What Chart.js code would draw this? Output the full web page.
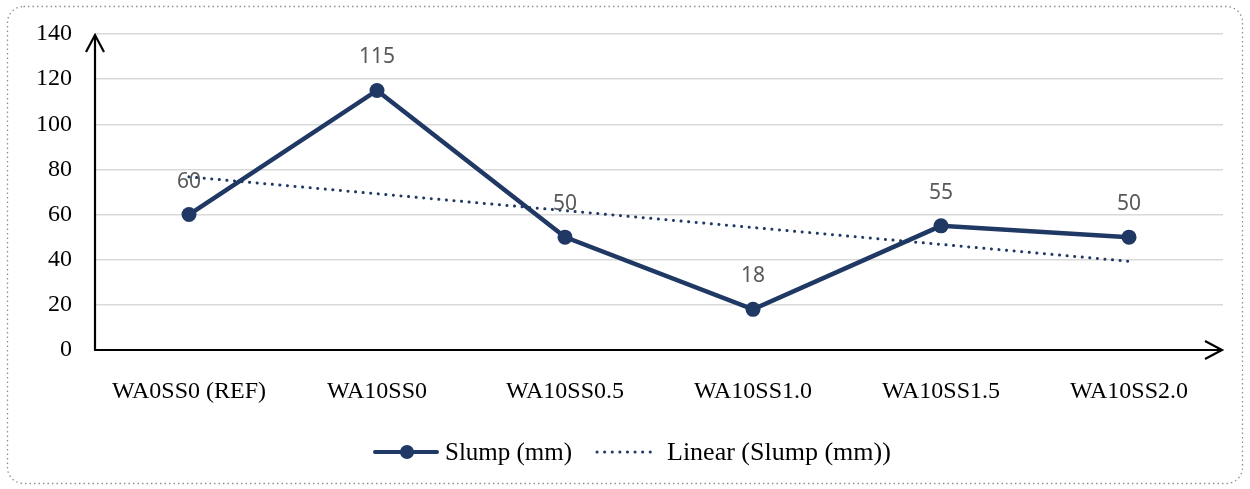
<!DOCTYPE html>
<html>
<head>
<meta charset="utf-8">
<script src="https://cdn.jsdelivr.net/npm/chart.js@4.4.0/dist/chart.umd.min.js"></script>
<style>
  html, body { margin: 0; padding: 0; background: #fff; }
  #wrap { width: 1250px; height: 489px; }
</style>
</head>
<body>
<div id="wrap"><canvas id="slumpChart" width="1250" height="489"></canvas></div>
<script>
// chart data
const mixes = ['WA0SS0 (REF)', 'WA10SS0', 'WA10SS0.5', 'WA10SS1.0', 'WA10SS1.5', 'WA10SS2.0'];
const slump = [60, 115, 50, 18, 55, 50];
// Excel linear trendline, ends
const slumpTrend = [76.7, null, null, null, null, 39.3];
const yTicks = [0, 20, 40, 60, 80, 100, 120, 140];

const navy = '#203864';
const serif = "'Liberation Serif', 'Times New Roman', serif";

// dotted frame, axis arrows, point labels and legend
const decorations = {
    id: 'decorations',
    beforeDraw(chart) {
        const ctx = chart.ctx;
        ctx.save();
        ctx.strokeStyle = '#8f8f8f';
        ctx.lineWidth = 1.3;
        ctx.setLineDash([1.5, 3]);
        ctx.beginPath();
        ctx.roundRect(7.5, 6.5, 1235, 477, 16);
        ctx.stroke();
        ctx.restore();
    },
    afterDatasetsDraw(chart) {
        const ctx = chart.ctx;
        const area = chart.chartArea;
        const x0 = area.left, y0 = area.bottom;
        const yTop = chart.scales.y.getPixelForValue(140) + 1;
        const xEnd = area.right - 1;

        ctx.save();
        ctx.strokeStyle = '#000';
        ctx.lineWidth = 2.2;
        ctx.lineCap = 'butt';
        ctx.beginPath();
        ctx.moveTo(x0, y0);
        ctx.lineTo(x0, yTop);
        ctx.moveTo(x0 - 1, y0);
        ctx.lineTo(xEnd, y0);
        ctx.stroke();
        // arrow heads
        ctx.beginPath();
        ctx.moveTo(x0 - 9, yTop + 17);
        ctx.lineTo(x0, yTop);
        ctx.lineTo(x0 + 9, yTop + 17);
        ctx.moveTo(xEnd - 17, y0 - 9);
        ctx.lineTo(xEnd, y0);
        ctx.lineTo(xEnd - 17, y0 + 9);
        ctx.stroke();

        // value labels
        const meta = chart.getDatasetMeta(0);
        ctx.fillStyle = '#595959';
        ctx.font = "21px 'Noto Sans', 'Open Sans', sans-serif";
        ctx.textAlign = 'center';
        ctx.textBaseline = 'middle';
        meta.data.forEach((pt, i) => {
            ctx.fillText(String(slump[i]), pt.x, pt.y - 33);
        });

        // legend
        const ly = 452;
        ctx.font = '25px ' + serif;
        ctx.textAlign = 'left';
        ctx.fillStyle = '#000';
        ctx.strokeStyle = navy;
        ctx.lineWidth = 4;
        ctx.lineCap = 'round';
        ctx.beginPath();
        ctx.moveTo(375, ly);
        ctx.lineTo(437, ly);
        ctx.stroke();
        ctx.fillStyle = navy;
        ctx.beginPath();
        ctx.arc(407, ly, 7, 0, Math.PI * 2);
        ctx.fill();
        ctx.fillStyle = '#000';
        ctx.fillText(chart.data.datasets[0].label, 445, ly + 1);

        ctx.lineWidth = 3;
        ctx.setLineDash([0.1, 7.5]);
        ctx.beginPath();
        ctx.moveTo(597, ly);
        ctx.lineTo(655, ly);
        ctx.stroke();
        ctx.setLineDash([]);
        ctx.font = '26px ' + serif;
        ctx.fillText(chart.data.datasets[1].label, 667, ly + 1);
        ctx.restore();
    }
};

new Chart(document.getElementById('slumpChart').getContext('2d'), {
    type: 'line',
    data: {
        labels: mixes,
        datasets: [{
            label: 'Slump (mm)',
            data: slump,
            borderColor: navy,
            backgroundColor: navy,
            borderWidth: 4.5,
            pointRadius: 7.5,
            pointHoverRadius: 7.5,
            pointBackgroundColor: navy,
            pointBorderWidth: 0,
            tension: 0,
            order: 1
        }, {
            label: 'Linear (Slump (mm))',
            data: slumpTrend,
            borderColor: navy,
            borderWidth: 3,
            borderDash: [0.1, 7.5],
            borderCapStyle: 'round',
            pointRadius: 0,
            spanGaps: true,
            order: 2
        }]
    },
    options: {
        responsive: false,
        animation: false,
        layout: { padding: { top: 34, right: 27, left: 0, bottom: 0 } },
        plugins: {
            legend: { display: false },
            tooltip: { enabled: false }
        },
        scales: {
            x: {
                offset: true,
                grid: { display: false, drawTicks: false },
                border: { display: false },
                ticks: {
                    color: '#000',
                    font: { family: serif, size: 24 },
                    padding: 27,
                    maxRotation: 0
                },
                afterFit(scale) {
                    scale.height = 139;
                    scale.paddingLeft = 0;
                    scale.paddingRight = 0;
                }
            },
            y: {
                min: 0,
                max: 140,
                grid: { color: '#d9d9d9', lineWidth: 1.5, drawTicks: false },
                border: { display: false },
                afterBuildTicks(scale) { scale.ticks = yTicks.map(v => ({ value: v })); },
                ticks: {
                    color: '#000',
                    font: { family: serif, size: 24 },
                    padding: 23
                },
                afterFit(scale) {
                    scale.width = 95;
                    scale.paddingTop = 0;
                    scale.paddingBottom = 0;
                }
            }
        }
    },
    plugins: [decorations]
});
</script>
</body>
</html>
